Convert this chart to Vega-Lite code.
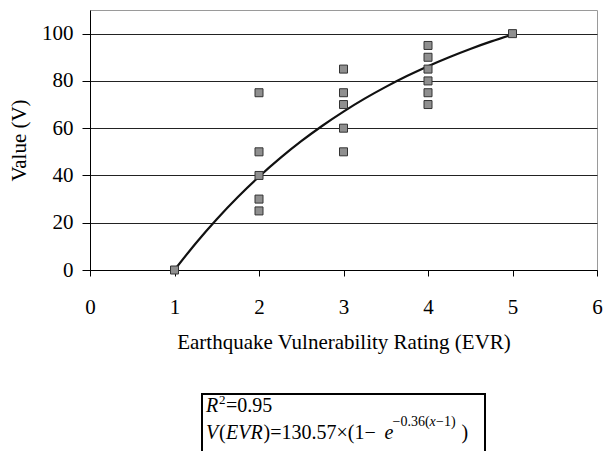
{
  "$schema": "https://vega.github.io/schema/vega-lite/v6.json",
  "background": "white",
  "padding": {"left": 8, "top": 9, "right": 1, "bottom": -4},
  "config": {
    "font": "Times New Roman, Liberation Serif, serif",
    "text": {"font": "Times New Roman, Liberation Serif, serif"},
    "axis": {
      "labelFont": "Times New Roman, Liberation Serif, serif",
      "titleFont": "Times New Roman, Liberation Serif, serif",
      "labelColor": "#000",
      "titleColor": "#000",
      "titleFontWeight": "normal",
      "domainColor": "#000",
      "tickColor": "#000",
      "domainWidth": 1,
      "tickWidth": 1
    }
  },
  "datasets": {
    "ratings": [
      {"evr": 1, "value": 0},
      {"evr": 2, "value": 75},
      {"evr": 2, "value": 50},
      {"evr": 2, "value": 40},
      {"evr": 2, "value": 30},
      {"evr": 2, "value": 25},
      {"evr": 3, "value": 85},
      {"evr": 3, "value": 75},
      {"evr": 3, "value": 70},
      {"evr": 3, "value": 60},
      {"evr": 3, "value": 50},
      {"evr": 4, "value": 95},
      {"evr": 4, "value": 90},
      {"evr": 4, "value": 85},
      {"evr": 4, "value": 80},
      {"evr": 4, "value": 75},
      {"evr": 4, "value": 70},
      {"evr": 5, "value": 100}
    ],
    "fitted": [
      {"evr": 1.0, "value": 0},
      {"evr": 1.25, "value": 11.24},
      {"evr": 1.5, "value": 21.51},
      {"evr": 1.75, "value": 30.9},
      {"evr": 2.0, "value": 39.47},
      {"evr": 2.25, "value": 47.31},
      {"evr": 2.5, "value": 54.48},
      {"evr": 2.75, "value": 61.03},
      {"evr": 3.0, "value": 67.02},
      {"evr": 3.25, "value": 72.49},
      {"evr": 3.5, "value": 77.48},
      {"evr": 3.75, "value": 82.05},
      {"evr": 4.0, "value": 86.23},
      {"evr": 4.25, "value": 90.04},
      {"evr": 4.5, "value": 93.53},
      {"evr": 4.75, "value": 96.72},
      {"evr": 5.0, "value": 99.63}
    ]
  },
  "vconcat": [
    {
      "width": 507,
      "height": 260,
      "view": {"stroke": "#9a9a9a", "strokeWidth": 1},
      "encoding": {
        "x": {
          "field": "evr",
          "type": "quantitative",
          "scale": {"domain": [0, 6], "nice": false, "zero": false},
          "axis": {
            "title": "Earthquake Vulnerability Rating (EVR)",
            "values": [0, 1, 2, 3, 4, 5, 6],
            "grid": false,
            "tickSize": 6,
            "labelPadding": 20,
            "labelFlush": false,
            "labelFontSize": 21,
            "titleFontSize": 21,
            "titlePadding": 14
          }
        },
        "y": {
          "field": "value",
          "type": "quantitative",
          "scale": {"domain": [0, 110], "nice": false},
          "axis": {
            "title": "Value (V)",
            "values": [0, 20, 40, 60, 80, 100],
            "grid": true,
            "gridColor": "#222",
            "gridWidth": 1,
            "gridOpacity": 1,
            "tickSize": 8,
            "labelPadding": 9,
            "labelFontSize": 21,
            "titleFontSize": 21,
            "titlePadding": 12
          }
        }
      },
      "layer": [
        {
          "data": {"name": "fitted"},
          "mark": {"type": "line", "color": "#111", "strokeWidth": 2.2, "interpolate": "monotone"}
        },
        {
          "data": {"name": "ratings"},
          "mark": {"type": "square", "size": 64, "filled": true, "fill": "#8f8f8f", "stroke": "#333", "strokeWidth": 1, "opacity": 1}
        }
      ]
    },
    {
      "width": 283,
      "height": 62,
      "view": {"stroke": "#000", "strokeWidth": 2},
      "data": {"values": [{"r2": 0.95, "a": 130.57, "b": 0.36}]},
      "layer": [
        {"mark": {"type": "text", "text": "R", "fontStyle": "italic", "fontSize": 20, "align": "left", "baseline": "alphabetic", "dx": -137.5, "dy": -13, "color": "#000"}, "encoding": {}},
        {"mark": {"type": "text", "text": "2", "fontSize": 13, "align": "left", "baseline": "alphabetic", "dx": -124.5, "dy": -21, "color": "#000"}, "encoding": {}},
        {"mark": {"type": "text", "text": "=0.95", "fontSize": 20, "align": "left", "baseline": "alphabetic", "dx": -117.5, "dy": -13, "color": "#000"}, "encoding": {}},
        {"mark": {"type": "text", "text": "V", "fontStyle": "italic", "fontSize": 20, "align": "left", "baseline": "alphabetic", "dx": -137.5, "dy": 14, "color": "#000"}, "encoding": {}},
        {"mark": {"type": "text", "text": "(", "fontSize": 20, "align": "left", "baseline": "alphabetic", "dx": -124.5, "dy": 14, "color": "#000"}, "encoding": {}},
        {"mark": {"type": "text", "text": "EVR", "fontStyle": "italic", "fontSize": 20, "align": "left", "baseline": "alphabetic", "dx": -117.5, "dy": 14, "color": "#000"}, "encoding": {}},
        {"mark": {"type": "text", "text": ")=130.57×(1−", "fontSize": 20, "align": "left", "baseline": "alphabetic", "dx": -80, "dy": 14, "color": "#000"}, "encoding": {}},
        {"mark": {"type": "text", "text": "e", "fontStyle": "italic", "fontSize": 20, "align": "left", "baseline": "alphabetic", "dx": 41, "dy": 14, "color": "#000"}, "encoding": {}},
        {"mark": {"type": "text", "text": "−0.36(", "fontSize": 14, "align": "left", "baseline": "alphabetic", "dx": 49, "dy": 1, "color": "#000"}, "encoding": {}},
        {"mark": {"type": "text", "text": "x", "fontStyle": "italic", "fontSize": 14, "align": "left", "baseline": "alphabetic", "dx": 86.1, "dy": 1, "color": "#000"}, "encoding": {}},
        {"mark": {"type": "text", "text": "−1)", "fontSize": 14, "align": "left", "baseline": "alphabetic", "dx": 92.5, "dy": 1, "color": "#000"}, "encoding": {}},
        {"mark": {"type": "text", "text": ")", "fontSize": 20, "align": "left", "baseline": "alphabetic", "dx": 118, "dy": 14, "color": "#000"}, "encoding": {}}
      ]
    }
  ],
  "spacing": 124,
  "bounds": "flush",
  "center": true
}
